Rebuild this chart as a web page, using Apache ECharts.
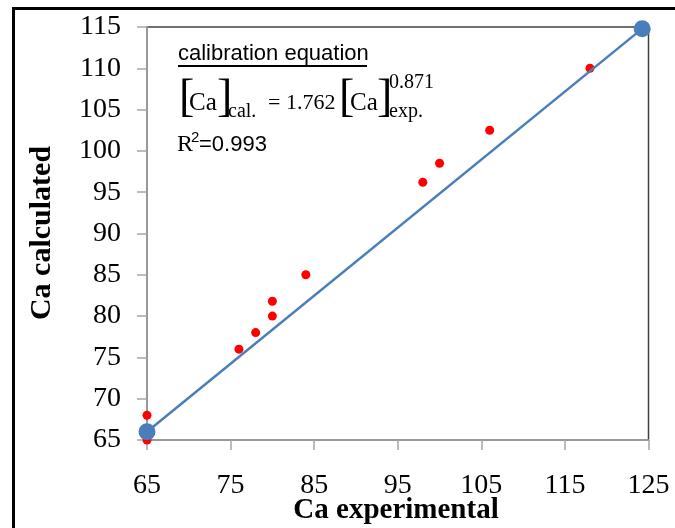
<!DOCTYPE html>
<html>
<head>
<meta charset="utf-8">
<script src="https://cdn.jsdelivr.net/npm/echarts@6/dist/echarts.min.js"></script>
<style>
html,body{margin:0;padding:0;background:#fff;}
#chart{width:675px;height:528px;}
</style>
</head>
<body>
<div id="chart"></div>
<script>
// ---- data ----
const xExperimental = [65, 65, 76, 78, 80, 80, 84, 98, 100, 106, 118];
const yCalculated   = [68, 65, 76, 78, 80, 81.8, 85, 96.2, 98.5, 102.5, 110];
const fitX = [65, 124.25];
const fitY = [66, 114.8];
const xTickLabels = ['65', '75', '85', '95', '105', '115', '125'];
const yTickLabels = ['65', '70', '75', '80', '85', '90', '95', '100', '105', '110', '115'];
const xTitle = 'Ca experimental';
const yTitle = 'Ca calculated';

const xStart = 65; // axis origin; ticks counted from 0 in offset units
const scatterData = xExperimental.map((x, i) => [x - xStart, yCalculated[i]]);
const fitData = fitX.map((x, i) => [x - xStart, fitY[i]]);

const chart = echarts.init(document.getElementById('chart'), null, {renderer: 'canvas'});
const serif = '"Liberation Serif","Times New Roman",serif';
const sans = '"Liberation Sans",Arial,sans-serif';

chart.setOption({
  animation: false,
  backgroundColor: '#fff',
  grid: {left: 147, right: 26.5, top: 27, bottom: 88, show: true, borderColor: '#404040', borderWidth: 1.5},
  xAxis: {
    type: 'value', min: 0, max: 60, interval: 10,
    axisLine: {show: true, onZero: false, lineStyle: {color: '#a6a6a6', width: 1.5}},
    axisTick: {show: true, inside: false, length: 10, lineStyle: {color: '#a6a6a6', width: 1.5}},
    splitLine: {show: false},
    axisLabel: {color: '#000', fontFamily: serif, fontSize: 28, margin: 32,
      formatter: v => xTickLabels[Math.round(v / 10)]}
  },
  yAxis: {
    type: 'value', min: 65, max: 115, interval: 5,
    axisLine: {show: true, onZero: false, lineStyle: {color: '#a6a6a6', width: 1.5}},
    axisTick: {show: true, inside: false, length: 10, lineStyle: {color: '#a6a6a6', width: 1.5}},
    splitLine: {show: false},
    axisLabel: {color: '#000', fontFamily: serif, fontSize: 28, margin: 26,
      formatter: v => yTickLabels[Math.round((v - 65) / 5)]}
  },
  series: [
    {type: 'scatter', data: scatterData, symbol: 'circle', symbolSize: 9,
     itemStyle: {color: '#ff0000', opacity: 1}, z: 2, clip: false},
    {type: 'line', data: fitData, symbol: 'circle', symbolSize: 17, showSymbol: true,
     lineStyle: {color: '#4a7ebb', width: 2.5}, itemStyle: {color: '#4a7ebb', opacity: 1}, z: 3, clip: false}
  ],
  graphic: [
    {type: 'rect', shape: {x: 13.5, y: 8.5, width: 720, height: 600}, style: {fill: 'none', stroke: '#000', lineWidth: 3}, silent: true},
    {type: 'text', x: 42, y: 233, rotation: Math.PI / 2,
     style: {text: yTitle, font: 'bold 30px ' + serif, fill: '#000', align: 'center', verticalAlign: 'middle'}},
    {type: 'text', x: 396, y: 511,
     style: {text: xTitle, font: 'bold 29px ' + serif, fill: '#000', align: 'center', verticalAlign: 'middle'}},
    {type: 'text', x: 178, y: 54,
     style: {text: 'calibration equation', font: '22px ' + sans, fill: '#000', align: 'left', verticalAlign: 'middle'}},
    {type: 'line', shape: {x1: 178, y1: 66, x2: 367, y2: 66}, style: {stroke: '#000', lineWidth: 2}},
    {type: 'text', x: 179, y: 99, style: {text: '[', font: '46px ' + serif, fill: '#000', align: 'left', verticalAlign: 'middle'}},
    {type: 'text', x: 189, y: 103, style: {text: 'Ca', font: '25px ' + serif, fill: '#000', align: 'left', verticalAlign: 'middle'}},
    {type: 'text', x: 217, y: 99, style: {text: ']', font: '46px ' + serif, fill: '#000', align: 'left', verticalAlign: 'middle'}},
    {type: 'text', x: 228, y: 112, style: {text: 'cal.', font: '20px ' + serif, fill: '#000', align: 'left', verticalAlign: 'middle'}},
    {type: 'text', x: 268, y: 103, style: {text: '= 1.762', font: '22px ' + serif, fill: '#000', align: 'left', verticalAlign: 'middle'}},
    {type: 'text', x: 339, y: 99, style: {text: '[', font: '46px ' + serif, fill: '#000', align: 'left', verticalAlign: 'middle'}},
    {type: 'text', x: 350, y: 103, style: {text: 'Ca', font: '25px ' + serif, fill: '#000', align: 'left', verticalAlign: 'middle'}},
    {type: 'text', x: 377, y: 99, style: {text: ']', font: '46px ' + serif, fill: '#000', align: 'left', verticalAlign: 'middle'}},
    {type: 'text', x: 389, y: 83, style: {text: '0.871', font: '20px ' + serif, fill: '#000', align: 'left', verticalAlign: 'middle'}},
    {type: 'text', x: 389, y: 112, style: {text: 'exp.', font: '20px ' + serif, fill: '#000', align: 'left', verticalAlign: 'middle'}},
    {type: 'text', x: 177, y: 145, style: {text: 'R', font: '24px ' + serif, fill: '#000', align: 'left', verticalAlign: 'middle'}},
    {type: 'text', x: 191, y: 138, style: {text: '2', font: '15px ' + sans, fill: '#000', align: 'left', verticalAlign: 'middle'}},
    {type: 'text', x: 199, y: 145, style: {text: '=0.993', font: '22px ' + sans, fill: '#000', align: 'left', verticalAlign: 'middle'}}
  ]
});
</script>
</body>
</html>
